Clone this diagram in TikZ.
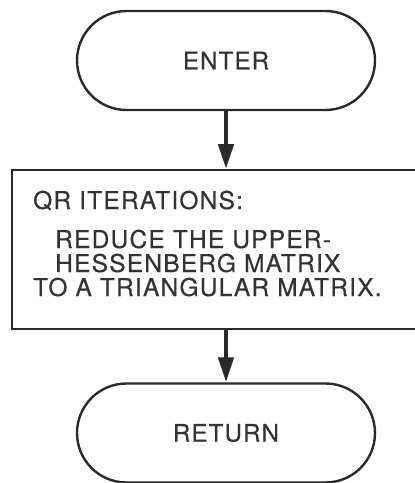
\documentclass[tikz,border=0pt]{standalone}
\usepackage{fontspec}
\setmainfont{TeX Gyre Heros}[LetterSpace=5, FakeBold=0.4]
\usetikzlibrary{arrows.meta}
\definecolor{ink}{HTML}{2A2A2A}
\definecolor{txt}{HTML}{333333}
\begin{document}
\begin{tikzpicture}[x=1pt,y=-1pt,
  terminal/.style={draw=ink, line width=2.4pt, rounded corners=49.5pt,
    minimum width=298pt, minimum height=99pt, inner sep=0pt,
    text=txt, font=\fontsize{24}{26}\selectfont},
  procbox/.style={draw=ink, line width=2.2pt, minimum width=406pt,
    minimum height=159pt, inner sep=0pt, anchor=north west},
  flow/.style={draw=ink, line width=4.5pt,
    -{Triangle[length=25pt,width=15pt]}},
  boxtext/.style={text=txt, font=\fontsize{24.5}{26}\selectfont,
    inner sep=0pt, anchor=base west}]
\useasboundingbox (0,0) rectangle (415,483);

% start and end terminals
\node[terminal] (enter) at (226,60.5) {ENTER};
\node[terminal] (ret) at (226,433) {RETURN};

% process box
\node[procbox] (qr) at (11,169) {};
\node[boxtext] (head) at (33,209) {QR ITERATIONS:};
\node[boxtext] (l1) at (55,248) {REDUCE THE UPPER-};
\node[boxtext] (l2) at (55,272) {HESSENBERG MATRIX};
\node[boxtext] (l3) at (33,296) {TO A TRIANGULAR MATRIX.};

% flow lines
\draw[flow] (enter.south) -- (enter.south |- qr.north);
\draw[flow] (ret.north |- qr.south) -- (ret.north);
\end{tikzpicture}
\end{document}
